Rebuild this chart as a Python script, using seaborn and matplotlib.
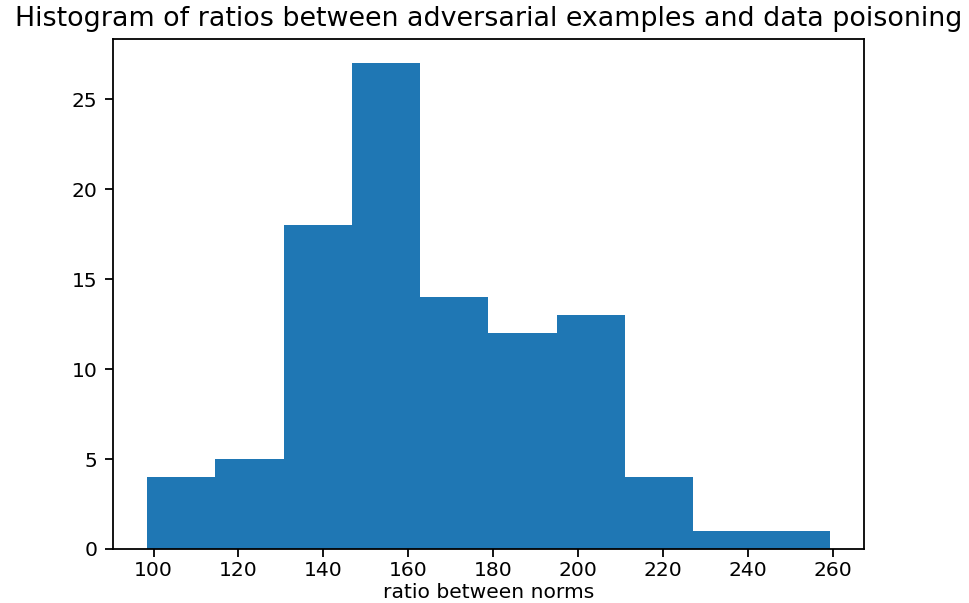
import matplotlib
matplotlib.use("Agg")
import matplotlib.pyplot as plt
import seaborn as sns
import numpy as np

# Histogram data
bin_edges = [98.5, 114.57, 130.64, 146.71, 162.78, 178.85, 194.92, 210.99, 227.06, 243.13, 259.2]
counts = [4, 5, 18, 27, 14, 12, 13, 4, 1, 1]
title = "Histogram of ratios between adversarial examples and data poisoning"
xlabel = "ratio between norms"

centers = [(a + b) / 2 for a, b in zip(bin_edges[:-1], bin_edges[1:])]

plt.rcParams.update(plt.rcParamsDefault)
plt.rcParams["xtick.labelsize"] = 9
plt.rcParams["ytick.labelsize"] = 9
plt.rcParams["axes.labelsize"] = 9
plt.rcParams["xtick.major.pad"] = 2.0
dpi = 161.5
fig = plt.figure(figsize=(969 / dpi, 603 / dpi), dpi=dpi)
ax = fig.add_axes([113 / 969, 1 - 549 / 603, (864 - 113) / 969, (549 - 39) / 603])

sns.histplot(x=centers, weights=counts, bins=bin_edges, ax=ax,
             color="#1f77b4", alpha=1.0, edgecolor="none", linewidth=0)

ax.set_title(title, fontsize=12)
ax.set_xlabel(xlabel, labelpad=1)
ax.set_ylabel("")
ax.set_xticks([100, 120, 140, 160, 180, 200, 220, 240, 260])
ax.set_yticks([0, 5, 10, 15, 20, 25])

fig.savefig("out.png", dpi=dpi)
